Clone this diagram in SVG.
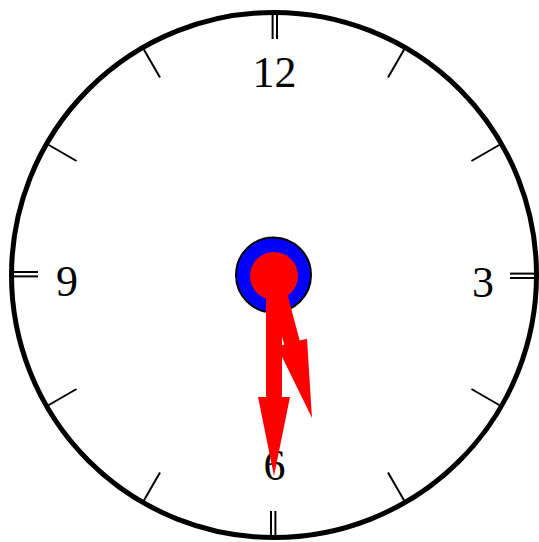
<svg xmlns="http://www.w3.org/2000/svg" width="539" height="542" viewBox="0 0 539 542">
<defs>
<style>
.num{font-family:"Liberation Serif","Times New Roman",serif;font-size:44px;fill:#000;text-anchor:middle}
.tick{stroke:#000;stroke-width:2}
</style>
<line id="minor" class="tick" x1="274" y1="47" x2="274" y2="13"/>
<g id="major"><line class="tick" x1="272.6" y1="39" x2="272.6" y2="12"/><line class="tick" x1="277" y1="39" x2="277" y2="12"/></g>
</defs>
<rect width="539" height="542" fill="#fff"/>
<g id="face">
<circle cx="274" cy="275" r="262.5" fill="#fff" stroke="#000" stroke-width="5"/>
</g>
<g id="ticks">
<use href="#major"/>
<use href="#minor" transform="rotate(30 274 275)"/>
<use href="#minor" transform="rotate(60 274 275)"/>
<use href="#major" transform="rotate(90 274 275)"/>
<use href="#minor" transform="rotate(120 274 275)"/>
<use href="#minor" transform="rotate(150 274 275)"/>
<use href="#major" transform="rotate(180 274 275)"/>
<use href="#minor" transform="rotate(210 274 275)"/>
<use href="#minor" transform="rotate(240 274 275)"/>
<use href="#major" transform="rotate(270 274 275)"/>
<use href="#minor" transform="rotate(300 274 275)"/>
<use href="#minor" transform="rotate(330 274 275)"/>
</g>
<g id="numerals">
<text class="num" x="274.5" y="87">12</text>
<text class="num" x="483" y="297">3</text>
<text class="num" x="274.5" y="480">6</text>
<text class="num" x="67" y="296">9</text>
</g>
<g id="hub">
<circle cx="273.5" cy="275" r="37.5" fill="#00f" stroke="#000" stroke-width="2"/>
</g>
<g id="hands" fill="#f00">
<polygon id="hour-hand" points="266.3,277 281.7,273 299.7,340.6 307,338.7 312,418 277,346.6 284.2,344.7"/>
<polygon id="minute-hand" points="266,275 282,275 282,397 290,397 274,476 258,397 266,397"/>
<circle cx="274" cy="276" r="24"/>
</g>
</svg>
